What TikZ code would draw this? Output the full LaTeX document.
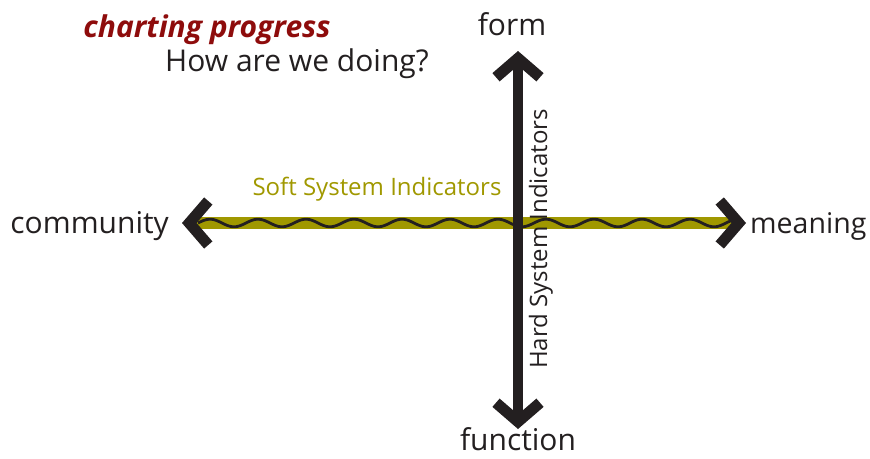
\documentclass[tikz,border=0pt]{standalone}
\usepackage{fontspec}
\setmainfont{Open Sans}
\usetikzlibrary{arrows.meta}
\definecolor{axisblack}{RGB}{35,31,32}
\definecolor{softolive}{RGB}{160,152,0}
\definecolor{chartred}{RGB}{142,12,12}
\tikzset{chevron/.tip={Straight Barb[length=19pt,width=44pt,line width=11pt,color=axisblack]},
  bothchevron/.style={chevron-chevron},
  axislabel/.style={text=axisblack,font=\fontsize{30}{34}\selectfont,inner sep=0pt}}
\begin{document}
\begin{tikzpicture}[x=1pt,y=-1pt]
          \useasboundingbox (0,0) rectangle (870,458);
          \def\xmid{518} \def\ymid{223}
          \def\wstart{198} \def\wend{734} \def\wdeg{7.5} % 48pt per wave

          \node[axislabel,anchor=east] (community) at (169,226) {community};
          \node[axislabel,anchor=west,font=\fontsize{28.5}{34}\selectfont] (meaning) at (750,226) {meaning};
          \node[axislabel] (form) at (512,24) {form};
          \node[axislabel] (function) at (518,439) {function};

          \coordinate (lefttip) at (182,\ymid);
          \coordinate (righttip) at (746,\ymid);
          \coordinate (toptip) at (\xmid,51);
          \coordinate (bottip) at (\xmid,429);

          \draw[softolive,line width=12pt,bothchevron] (lefttip) -- (righttip);
          \draw[axisblack,line width=10pt,bothchevron] (toptip) -- (bottip);
          \draw[axisblack,line width=2.8pt] plot[domain=\wstart:\wend,samples=240,smooth] (\x,{\ymid-3.8*sin(\wdeg*(\x-\wstart))});

          \node[text=softolive,font=\fontsize{24}{28}\selectfont,inner sep=0pt] (soft) at (377,189) {Soft System Indicators};
          \node[text=axisblack,font=\fontsize{24}{28}\selectfont,inner sep=0pt,rotate=90] (hard) at (541,239) {Hard System Indicators};

          \node[text=chartred,font=\fontsize{30}{34}\selectfont\bfseries\itshape,inner sep=0pt] (charting) at (207,30) {charting progress};
          \node[text=axisblack,font=\fontsize{30}{34}\selectfont,inner sep=0pt] (doing) at (297,64) {How are we doing?};
        \end{tikzpicture}
\end{document}
